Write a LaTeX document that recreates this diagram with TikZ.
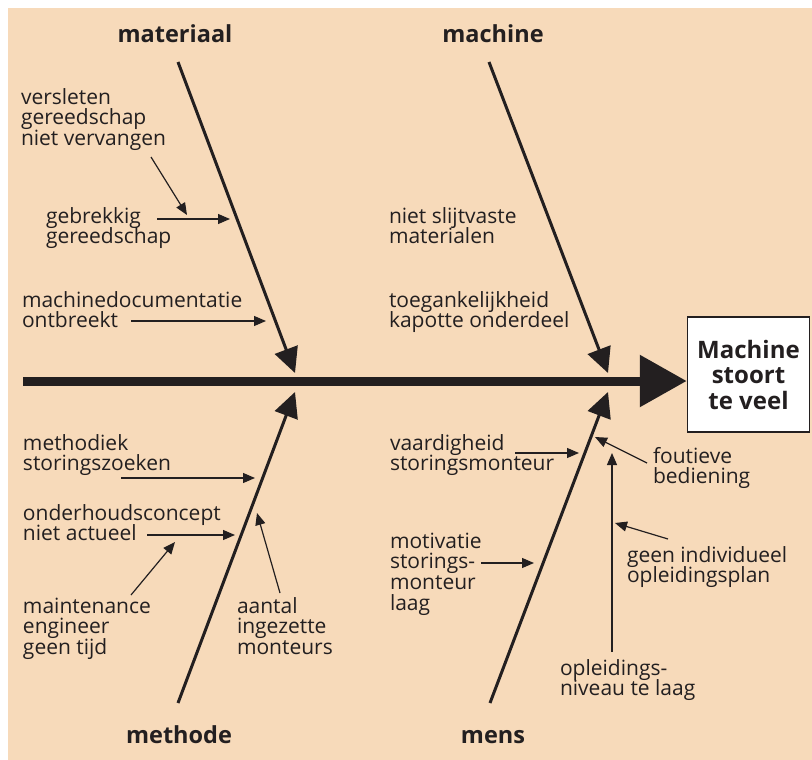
\documentclass[tikz,border=0pt]{standalone}
\usepackage{fontspec}
\setmainfont{Open Sans}
\usetikzlibrary{arrows.meta}
\definecolor{peach}{RGB}{247,218,186}
\definecolor{ink}{RGB}{35,31,32}
\newcommand{\txtlines}[1]{\vtop{\baselineskip=20.7pt\lineskiplimit=-30pt\lineskip=0pt\halign{##\hfil\cr#1\crcr}}}
\newcommand{\boxlines}[1]{\vtop{\baselineskip=25.5pt\lineskiplimit=-30pt\lineskip=0pt\halign{\hfil##\hfil\cr#1\crcr}}}
\begin{document}
\begin{tikzpicture}[x=1pt,y=-1pt,
  lbl/.style={anchor=base west, inner sep=0pt, outer sep=0pt, text=ink, font=\fontsize{21}{20.7}\selectfont},
  head/.style={anchor=base, inner sep=0pt, text=ink, font=\bfseries\fontsize{23.5}{26}\selectfont},
  effect/.style={draw=ink, line width=1.5pt, fill=white, minimum width=122pt, minimum height=115pt, inner sep=0pt, text=ink, font=\bfseries\fontsize{24}{25.5}\selectfont},
  bone/.style={draw=ink, line width=3pt, -{Triangle[length=25pt,width=24pt]}},
  spine/.style={draw=ink, line width=9pt, -{Triangle[length=47pt,width=50pt]}},
  cause/.style={draw=ink, line width=1.2pt, -{Triangle[length=12pt,width=10pt]}},
]
\useasboundingbox (0,0) rectangle (812,760);
\fill[white] (0,0) rectangle (812,760);
\fill[peach] (8,8) rectangle (812,760);

% category headers
\node[head] (mat)  at (175,43)  {materiaal};
\node[head] (mach) at (493,43)  {machine};
\node[head] (meth) at (179,743) {methode};
\node[head] (mens) at (493,743) {mens};

% effect box
\node[effect] (box) at (748.5,374.5) {\boxlines{Machine\cr stoort\cr te veel}};

% spine
\coordinate (spS) at (23,381);
\draw[spine] (spS) -- (spS -| box.west);

% bones
\coordinate (matS)  at (178,62);  \coordinate (matT)  at (295,373);
\coordinate (machS) at (489,62);  \coordinate (machT) at (608,373);
\coordinate (methS) at (178,703); \coordinate (methT) at (295,392);
\coordinate (mensS) at (490,703); \coordinate (mensT) at (608,392);
\draw[bone] (matS) -- (matT);
\draw[bone] (machS) -- (machT);
\draw[bone] (methS) -- (methT);
\draw[bone] (mensS) -- (mensT);

% cause texts
\node[lbl] (versl)  at (21,104)  {\txtlines{versleten\cr gereedschap\cr niet vervangen}};
\node[lbl] (gebr)   at (46,223)  {\txtlines{gebrekkig\cr gereedschap}};
\node[lbl] (mdoc)   at (22,307)  {\txtlines{machinedocumentatie\cr ontbreekt}};
\node[lbl] (slijt)  at (389,223) {\txtlines{niet slijtvaste\cr materialen}};
\node[lbl] (toeg)   at (389,307) {\txtlines{toegankelijkheid\cr kapotte onderdeel}};
\node[lbl] (mdiek)  at (23,450)  {\txtlines{methodiek\cr storingszoeken}};
\node[lbl] (ohc)    at (23,520)  {\txtlines{onderhoudsconcept\cr niet actueel}};
\node[lbl] (maint)  at (23,613)  {\txtlines{maintenance\cr engineer\cr geen tijd}};
\node[lbl] (aantal) at (237,613) {\txtlines{aantal\cr ingezette\cr monteurs}};
\node[lbl] (vaard)  at (390,450) {\txtlines{vaardigheid\cr storingsmonteur}};
\node[lbl] (motiv)  at (390,548) {\txtlines{motivatie\cr storings-\cr monteur\cr laag}};
\node[lbl] (fout)   at (653,463) {\txtlines{foutieve\cr bediening}};
\node[lbl] (geen)   at (627,562) {\txtlines{geen individueel\cr opleidingsplan}};
\node[lbl] (opl)    at (560,675) {\txtlines{opleidings-\cr niveau te laag}};

% cause arrows
\coordinate (a1s) at (151,157); \coordinate (a1t) at (187,215);
\coordinate (a2s) at (157,219); \coordinate (a2t) at (230,219);
\coordinate (a3s) at (131,321); \coordinate (a3t) at (266,321);
\coordinate (a4s) at (121,478); \coordinate (a4t) at (255,478);
\coordinate (a5s) at (147,535); \coordinate (a5t) at (235,535);
\coordinate (a6s) at (131,595); \coordinate (a6t) at (175,542);
\coordinate (a7s) at (280,593); \coordinate (a7t) at (257,513);
\coordinate (a8s) at (515,453); \coordinate (a8t) at (579,453);
\coordinate (a9s) at (647,463); \coordinate (a9t) at (595,437);
\coordinate (a10s) at (612,652); \coordinate (a10t) at (612,453);
\coordinate (a11s) at (668,539); \coordinate (a11t) at (615,523);
\coordinate (a12s) at (481,563); \coordinate (a12t) at (534,563);
\foreach \i in {1,...,12} {\draw[cause] (a\i s) -- (a\i t);}
\end{tikzpicture}
\end{document}
